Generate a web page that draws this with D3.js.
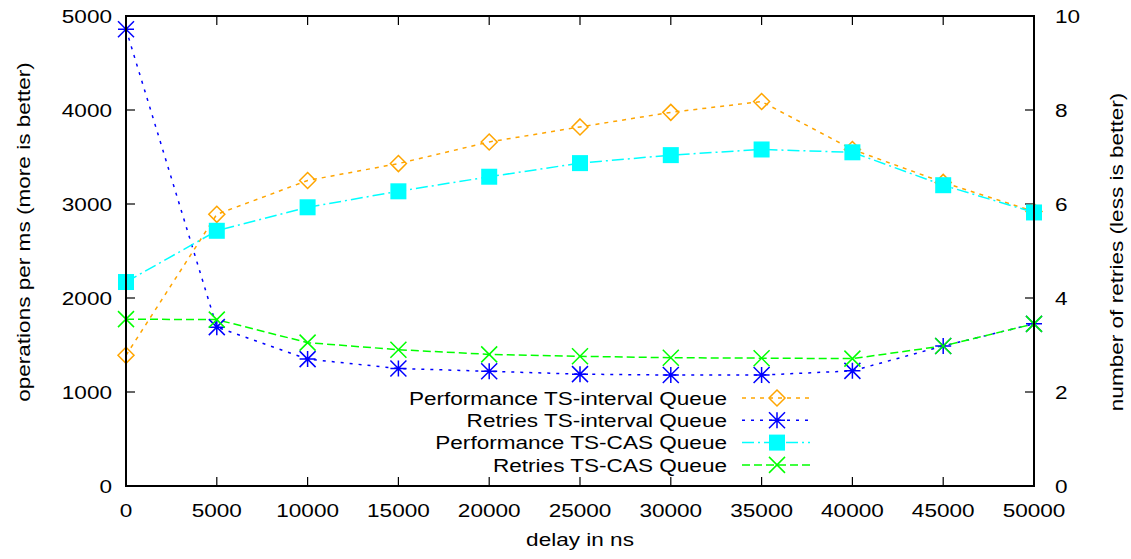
<!DOCTYPE html>
<html>
<head>
<meta charset="utf-8">
<script src="https://cdn.jsdelivr.net/npm/d3@7"></script>
<style>
  html, body { margin: 0; padding: 0; background: #fff; }
  svg { display: block; font-family: "Liberation Sans", Arial, sans-serif; }
</style>
</head>
<body>
<svg id="chart" width="1131" height="559"></svg>
<script>
// Delay values (ns) on the x axis
const delays = [0, 5000, 10000, 15000, 20000, 25000, 30000, 35000, 40000, 45000, 50000];

// Throughput, operations per ms (left axis)
const perfInterval = [1390, 2890, 3250, 3430, 3660, 3820, 3975, 4090, 3580, 3230, 2920];
const perfCas      = [2170, 2715, 2965, 3135, 3290, 3435, 3520, 3580, 3550, 3200, 2910];

// Number of retries (right axis)
const retriesInterval = [9.72, 3.38, 2.70, 2.50, 2.44, 2.38, 2.36, 2.36, 2.45, 2.98, 3.45];
const retriesCas      = [3.55, 3.54, 3.05, 2.90, 2.80, 2.76, 2.73, 2.72, 2.71, 2.98, 3.45];

// Tick labels
const xTicks = [0, 5000, 10000, 15000, 20000, 25000, 30000, 35000, 40000, 45000, 50000];
const yLeftTicks = [0, 1000, 2000, 3000, 4000, 5000];
const yRightTicks = [0, 2, 4, 6, 8, 10];

const legendLabels = [
  "Performance TS-interval Queue",
  "Retries TS-interval Queue",
  "Performance TS-CAS Queue",
  "Retries TS-CAS Queue"
];

const svg = d3.select("#chart");
const L = 126, R = 1034, T = 16, B = 486;

const x = d3.scaleLinear().domain([0, 50000]).range([L, R]);
const yL = d3.scaleLinear().domain([0, 5000]).range([B, T]);
const yR = d3.scaleLinear().domain([0, 10]).range([B, T]);

const series = [
  { label: legendLabels[0], values: perfInterval, y: yL, color: "#ffa500", dash: "4,5", marker: "diamond" },
  { label: legendLabels[1], values: retriesInterval, y: yR, color: "#0000ff", dash: "3,6", marker: "star" },
  { label: legendLabels[2], values: perfCas, y: yL, color: "#00ffff", dash: "12,4,2,4", marker: "square" },
  { label: legendLabels[3], values: retriesCas, y: yR, color: "#00ff00", dash: "8,4", marker: "cross" }
];

const tickLen = 9;
const fontSize = 18.5;
const stretch = 1.22;   // wide sans lettering

// Text helper: positioned, optionally rotated, horizontally widened glyphs
function addText(g, px, py, str, anchor, rot) {
  return g.append("text")
    .attr("transform", `translate(${px},${py}) rotate(${rot || 0}) scale(${stretch},1)`)
    .attr("text-anchor", anchor)
    .attr("font-size", fontSize)
    .attr("fill", "#000")
    .text(str);
}

// Axes (ticks point inward, mirrored on the opposite side)
const axisG = svg.append("g").attr("stroke", "#000").attr("stroke-width", 1.2);
xTicks.forEach(v => {
  const px = x(v);
  axisG.append("line").attr("x1", px).attr("x2", px).attr("y1", B).attr("y2", B - tickLen);
  axisG.append("line").attr("x1", px).attr("x2", px).attr("y1", T).attr("y2", T + tickLen);
});
yLeftTicks.forEach(v => {
  const py = yL(v);
  axisG.append("line").attr("x1", L).attr("x2", L + tickLen).attr("y1", py).attr("y2", py);
});
yRightTicks.forEach(v => {
  const py = yR(v);
  axisG.append("line").attr("x1", R).attr("x2", R - tickLen).attr("y1", py).attr("y2", py);
});

const textG = svg.append("g");
xTicks.forEach(v => addText(textG, x(v), 517, String(v), "middle"));
yLeftTicks.forEach(v => addText(textG, 112, yL(v) + 6.7, String(v), "end"));
yRightTicks.forEach(v => addText(textG, 1055, yR(v) + 6.7, String(v), "start"));

addText(textG, 580, 546, "delay in ns", "middle");
addText(textG, 30, 232, "operations per ms (more is better)", "middle", -90);
addText(textG, 1123, 252, "number of retries (less is better)", "middle", -90);

// Marker drawing
function drawMarker(g, kind, cx, cy, color) {
  const s = 8;
  if (kind === "diamond") {
    g.append("path")
      .attr("d", `M${cx},${cy - s}L${cx + s},${cy}L${cx},${cy + s}L${cx - s},${cy}Z`)
      .attr("fill", "none").attr("stroke", color).attr("stroke-width", 1.5);
  } else if (kind === "square") {
    g.append("rect").attr("x", cx - s).attr("y", cy - s).attr("width", 2 * s).attr("height", 2 * s)
      .attr("fill", color);
  } else if (kind === "cross") {
    g.append("path")
      .attr("d", `M${cx - s},${cy - s}L${cx + s},${cy + s}M${cx - s},${cy + s}L${cx + s},${cy - s}`)
      .attr("stroke", color).attr("stroke-width", 1.5);
  } else if (kind === "star") {
    g.append("path")
      .attr("d", `M${cx - s},${cy - s}L${cx + s},${cy + s}M${cx - s},${cy + s}L${cx + s},${cy - s}M${cx},${cy - s}L${cx},${cy + s}M${cx - s},${cy}L${cx + s},${cy}`)
      .attr("stroke", color).attr("stroke-width", 1.5);
  }
}

const plotG = svg.append("g");
series.forEach(s => {
  const line = d3.line()
    .x((d, i) => x(delays[i]))
    .y(d => s.y(d));
  plotG.append("path")
    .attr("d", line(s.values))
    .attr("fill", "none")
    .attr("stroke", s.color)
    .attr("stroke-width", 1.5)
    .attr("stroke-dasharray", s.dash);
});
series.forEach(s => {
  s.values.forEach((v, i) => drawMarker(plotG, s.marker, x(delays[i]), s.y(v), s.color));
});

// Legend
const legendG = svg.append("g");
series.forEach((s, i) => {
  const ly = 398 + i * 22.3;
  addText(legendG, 727, ly + 6.7, s.label, "end");
  legendG.append("line").attr("x1", 742).attr("x2", 810).attr("y1", ly).attr("y2", ly)
    .attr("stroke", s.color).attr("stroke-width", 1.5).attr("stroke-dasharray", s.dash);
  drawMarker(legendG, s.marker, 777, ly, s.color);
});

// Frame
svg.append("rect").attr("x", L).attr("y", T).attr("width", R - L).attr("height", B - T)
  .attr("fill", "none").attr("stroke", "#000").attr("stroke-width", 2);
</script>
</body>
</html>
